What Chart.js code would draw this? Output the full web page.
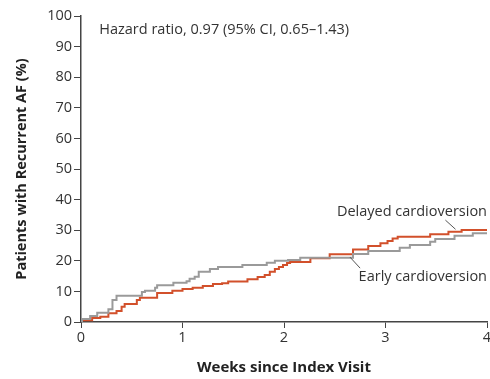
<!DOCTYPE html>
<html>
<head>
<meta charset="utf-8">
<script src="https://cdn.jsdelivr.net/npm/chart.js@4"></script>
<style>
  html, body { margin: 0; padding: 0; background: #fff; }
  #wrap { width: 490px; height: 379px; }
</style>
</head>
<body>
<div id="wrap"><canvas id="myChart" width="490" height="379"></canvas></div>
<script>
// weeks since index visit, cumulative % with recurrent AF
const earlyWeeks = [0, 0.01, 0.09, 0.16, 0.27, 0.31, 0.35, 0.60, 0.63, 0.73, 0.75, 0.91, 1.04, 1.07, 1.12, 1.16, 1.27, 1.35, 1.59, 1.83, 1.91, 2.04, 2.16, 2.68, 2.83, 3.14, 3.24, 3.44, 3.49, 3.68, 3.86, 4];
const earlyPct = [0, 1.0, 2.0, 3.0, 4.2, 7.2, 8.6, 9.8, 10.2, 11.2, 12.0, 12.8, 13.3, 14.1, 14.8, 16.4, 17.3, 18.0, 18.6, 19.4, 20.0, 20.3, 21.0, 22.2, 23.2, 24.3, 25.2, 26.2, 27.1, 28.2, 29.0, 29.0];

const delayedWeeks = [0, 0.01, 0.11, 0.19, 0.27, 0.35, 0.40, 0.43, 0.55, 0.58, 0.75, 0.90, 1.00, 1.10, 1.20, 1.30, 1.39, 1.45, 1.64, 1.74, 1.81, 1.86, 1.91, 1.95, 1.99, 2.03, 2.06, 2.26, 2.45, 2.68, 2.83, 2.95, 3.02, 3.07, 3.12, 3.44, 3.62, 3.75, 4];
const delayedPct = [0, 0.6, 1.3, 1.7, 2.9, 3.6, 5.0, 5.9, 7.2, 7.9, 9.5, 10.2, 10.8, 11.2, 11.8, 12.4, 12.7, 13.2, 14.0, 14.7, 15.4, 16.4, 17.3, 18.0, 18.6, 19.3, 19.6, 20.8, 22.1, 23.7, 24.8, 25.7, 26.5, 27.3, 27.9, 28.7, 29.5, 30.1, 30.1];

const xTicks = [0, 1, 2, 3, 4];
const yTicks = [0, 10, 20, 30, 40, 50, 60, 70, 80, 90, 100];

const hazardText = "Hazard ratio, 0.97 (95% CI, 0.65\u20131.43)";
const delayedLabel = "Delayed cardioversion";
const earlyLabel = "Early cardioversion";

Chart.defaults.font.family = "'Open Sans', 'Noto Sans', sans-serif";
Chart.defaults.color = "#333";

function toPoints(xs, ys) {
  return xs.map(function (x, i) { return { x: x, y: ys[i] }; });
}

// text and leader lines drawn on the chart
const notesPlugin = {
  id: "notes",
  afterDatasetsDraw(chart) {
    const ctx = chart.ctx;
    const xs = chart.scales.x;
    const ys = chart.scales.y;
    ctx.save();
    ctx.font = "14.5px 'Open Sans', sans-serif";
    ctx.fillStyle = "#333";
    ctx.textBaseline = "middle";
    ctx.textAlign = "left";
    ctx.fillText(hazardText, xs.getPixelForValue(0.18), ys.getPixelForValue(95.5));
    ctx.textAlign = "right";
    ctx.fillText(delayedLabel, xs.getPixelForValue(4.0), ys.getPixelForValue(36));
    ctx.fillText(earlyLabel, xs.getPixelForValue(4.0), ys.getPixelForValue(14.7));

    ctx.strokeStyle = "#555";
    ctx.lineWidth = 1;
    ctx.beginPath();
    ctx.moveTo(xs.getPixelForValue(3.59), ys.getPixelForValue(33.3));
    ctx.lineTo(xs.getPixelForValue(3.69), ys.getPixelForValue(30.3));
    ctx.moveTo(xs.getPixelForValue(2.65), ys.getPixelForValue(21.2));
    ctx.lineTo(xs.getPixelForValue(2.75), ys.getPixelForValue(17.6));
    ctx.stroke();
    ctx.restore();
  }
};

const data = {
  datasets: [
    {
      label: "Early cardioversion",
      data: toPoints(earlyWeeks, earlyPct),
      borderColor: "#9a9a9a",
      borderWidth: 2,
      stepped: true,
      pointRadius: 0,
      fill: false
    },
    {
      label: "Delayed cardioversion",
      data: toPoints(delayedWeeks, delayedPct),
      borderColor: "#d2502b",
      borderWidth: 2,
      stepped: true,
      pointRadius: 0,
      fill: false
    }
  ]
};

const config = {
  type: "line",
  data,
  options: {
    responsive: false,
    animation: false,
    layout: {
      padding: { top: 16, right: 3, left: 0, bottom: 0 }
    },
    plugins: {
      legend: { display: false },
      tooltip: { enabled: false }
    },
    scales: {
      x: {
        type: "linear",
        min: 0,
        max: 4,
        afterBuildTicks: function (scale) {
          scale.ticks = xTicks.map(function (v) { return { value: v }; });
        },
        afterFit: function (scale) {
          scale.height = 57;
          scale.paddingLeft = 0;
          scale.paddingRight = 0;
        },
        grid: { drawOnChartArea: false, drawTicks: true, tickLength: 6, color: "#444", lineWidth: 1 },
        border: { display: true, color: "#444", width: 1.5 },
        ticks: { font: { size: 14.5 }, color: "#333", padding: 1, maxRotation: 0 },
        title: {
          display: true,
          text: "Weeks since Index Visit",
          font: { size: 15, weight: "bold" },
          color: "#222",
          padding: { top: 0, bottom: 2 }
        }
      },
      y: {
        min: 0,
        max: 100,
        afterBuildTicks: function (scale) {
          scale.ticks = yTicks.map(function (v) { return { value: v }; });
        },
        afterFit: function (scale) {
          scale.width = 81;
          scale.paddingTop = 0;
          scale.paddingBottom = 0;
        },
        grid: { drawOnChartArea: false, drawTicks: true, tickLength: 7, color: "#444", lineWidth: 1 },
        border: { display: true, color: "#444", width: 1.5 },
        ticks: { font: { size: 14.5 }, color: "#333", padding: 2 },
        title: {
          display: true,
          text: "Patients with Recurrent AF (%)",
          font: { size: 14.5, weight: "bold" },
          color: "#222",
          padding: { top: 13, bottom: 0 }
        }
      }
    }
  },
  plugins: [notesPlugin]
};

const ctx = document.getElementById("myChart").getContext("2d");
new Chart(ctx, config);
</script>
</body>
</html>
